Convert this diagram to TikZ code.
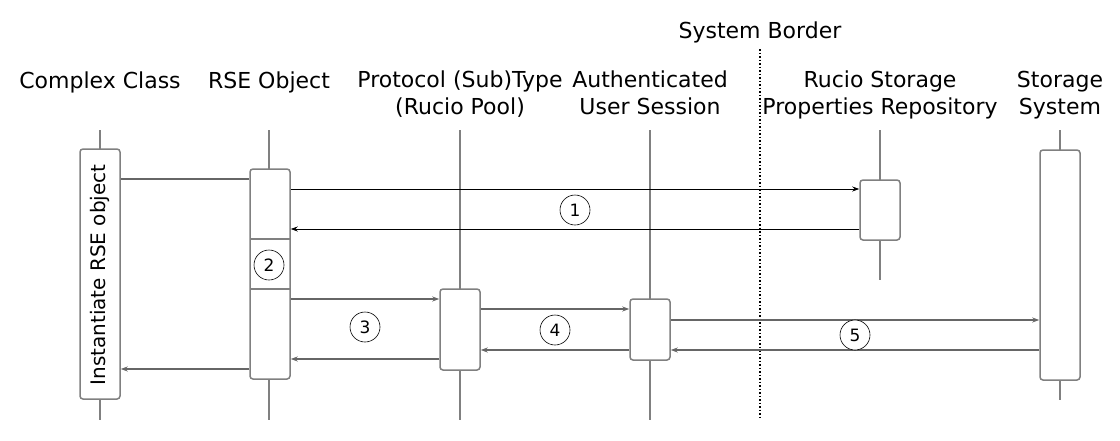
\documentclass[tikz,border=0pt]{standalone}
\usepackage{fontspec}
\setmainfont{DejaVu Sans}
\usetikzlibrary{arrows.meta}
\begin{document}
\begin{tikzpicture}[x=1pt,y=-1pt,
  lbl/.style={font=\fontsize{22}{27}\selectfont, align=center, inner sep=0pt},
  rotlbl/.style={font=\fontsize{20}{24}\selectfont, inner sep=0pt, rotate=90},
  life/.style={draw=black!50, line width=1.5pt},
  actbox/.style={draw=black!50, line width=1.5pt, fill=white, rounded corners=3pt, minimum width=40pt, inner sep=0pt},
  msg/.style={draw=black!60, line width=1.3pt, -{Stealth[length=7pt,width=5pt]}},
  msgthin/.style={draw=black, line width=0.8pt, -{Stealth[length=7pt,width=5pt]}},
  plaingray/.style={draw=black!60, line width=1.3pt},
  num/.style={draw=black, line width=0.6pt, circle, minimum size=30pt, inner sep=0pt, font=\fontsize{17}{18}\selectfont},
  border/.style={draw=black, line width=1.5pt, dotted}
]
\useasboundingbox (0,0) rectangle (1120,440);

% headings
\node[lbl] (hcc) at (100,82) {Complex Class};
\node[lbl] (hrse) at (269,82) {RSE Object};
\node[lbl, anchor=north] (hproto) at (460,71) {Protocol (Sub)Type\\(Rucio Pool)};
\node[lbl, anchor=north] (hauth) at (650,71) {Authenticated\\User Session};
\node[lbl, anchor=north] (hrepo) at (880,71) {Rucio Storage\\Properties Repository};
\node[lbl, anchor=north] (hstor) at (1060,71) {Storage\\System};
\node[lbl] (hsys) at (760,32) {System Border};

% system border
\coordinate (sbtop) at (760,49);
\coordinate (sbbot) at (760,420);
\draw[border] (sbtop) -- (sbbot);

% lifelines
\coordinate (cct) at (100,130); \coordinate (ccb) at (100,420);
\coordinate (rset) at (269,130); \coordinate (rseb) at (269,420);
\coordinate (prt) at (460,130); \coordinate (prb) at (460,420);
\coordinate (aut) at (650,130); \coordinate (aub) at (650,420);
\coordinate (rpt) at (880,130); \coordinate (rpb) at (880,280);
\coordinate (sst) at (1060,130); \coordinate (ssb) at (1060,400);
\draw[life] (cct) -- (ccb);
\draw[life] (rset) -- (rseb);
\draw[life] (prt) -- (prb);
\draw[life] (aut) -- (aub);
\draw[life] (rpt) -- (rpb);
\draw[life] (sst) -- (ssb);

% activation boxes
\node[actbox, minimum height=250pt] (cc) at (100,274) {};
\node[rotlbl] (cctext) at (100,275) {Instantiate RSE object};
\node[actbox, minimum height=210pt] (rse) at (270,274) {};
\coordinate (d1l) at (250,239); \coordinate (d1r) at (290,239);
\coordinate (d2l) at (250,289); \coordinate (d2r) at (290,289);
\draw[life] (d1l) -- (d1r);
\draw[life] (d2l) -- (d2r);
\node[actbox, minimum height=60pt] (repo) at (880,210) {};
\node[actbox, minimum height=81pt] (proto) at (460,329.5) {};
\node[actbox, minimum height=61pt] (auth) at (650,329.5) {};
\node[actbox, minimum height=230pt] (stor) at (1060,265) {};

% messages
\draw[plaingray] (cc.east |- 0,179) -- (rse.west |- 0,179);
\draw[msg] (rse.west |- 0,369) -- (cc.east |- 0,369);

\draw[msgthin] (rse.east |- 0,189) -- (repo.west |- 0,189);
\draw[msgthin] (repo.west |- 0,229) -- (rse.east |- 0,229);

\draw[msg] (rse.east |- 0,299) -- (proto.west |- 0,299);
\draw[msg] (proto.west |- 0,359) -- (rse.east |- 0,359);

\draw[msg] (proto.east |- 0,309) -- (auth.west |- 0,309);
\draw[msg] (auth.west |- 0,350) -- (proto.east |- 0,350);

\draw[msg] (auth.east |- 0,320) -- (stor.west |- 0,320);
\draw[msg] (stor.west |- 0,350) -- (auth.east |- 0,350);

% step numbers
\node[num, fill=white] (n1) at (575,210) {1};
\node[num] (n2) at (269,265) {2};
\node[num] (n3) at (365,327) {3};
\node[num] (n4) at (555,330) {4};
\node[num, fill=white] (n5) at (855,335) {5};
\end{tikzpicture}
\end{document}
